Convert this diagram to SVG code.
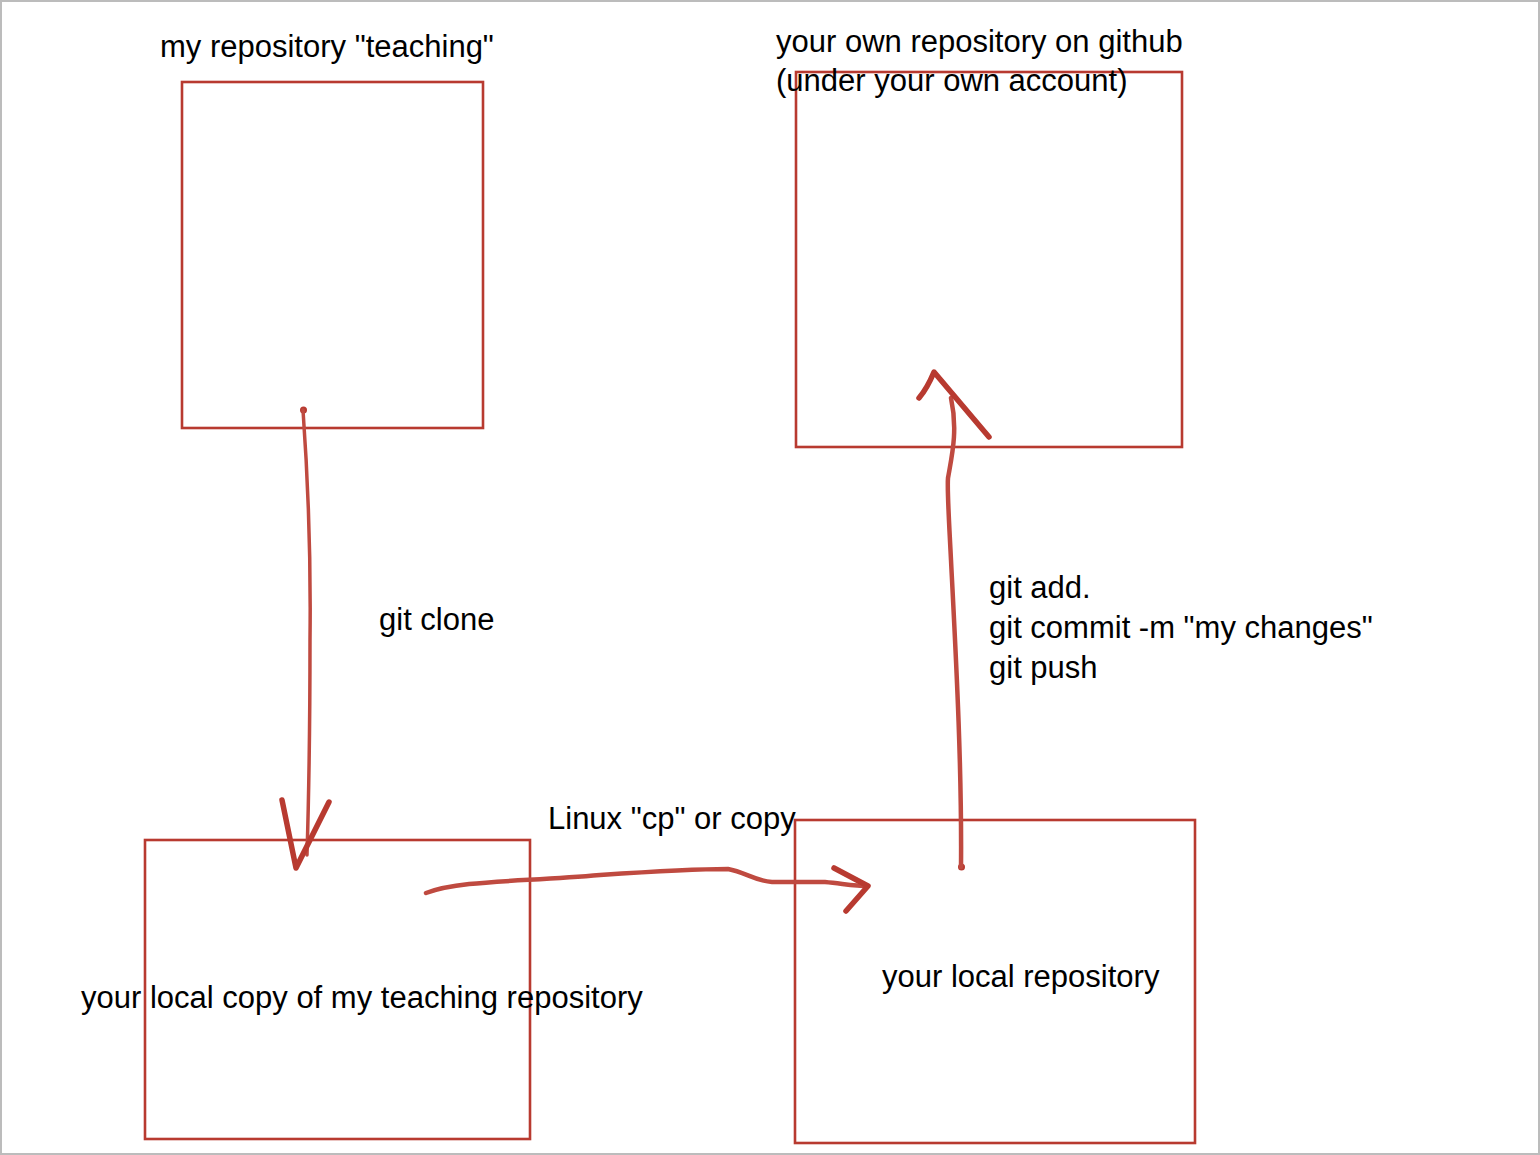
<svg xmlns="http://www.w3.org/2000/svg" width="1540" height="1155" viewBox="0 0 1540 1155">
<style>
.box{fill:none;stroke:#b83a30;stroke-width:2.6}
.t{font-family:"Liberation Sans",Arial,sans-serif;font-size:31px;fill:#000}
.ln{fill:none;stroke:#bf4a40;stroke-width:3.5;stroke-linecap:round;stroke-linejoin:round}
.ah{fill:none;stroke:#b83a30;stroke-width:5.5;stroke-linecap:round;stroke-linejoin:round}
.dot{fill:#b83a30}
</style>
<rect x="1" y="1" width="1538" height="1153" fill="#fff" stroke="#bcbcbc" stroke-width="2"/>
<g id="teaching">
<rect class="box" x="182" y="82" width="301" height="346"/>
<text class="t" x="160" y="57">my repository "teaching"</text>
</g>
<g id="github">
<rect class="box" x="796" y="72" width="386" height="375"/>
<text class="t" x="776" y="52">your own repository on github</text>
<text class="t" x="776" y="91">(under your own account)</text>
</g>
<g id="localcopy">
<rect class="box" x="145" y="840" width="385" height="299"/>
<text class="t" x="81" y="1008">your local copy of my teaching repository</text>
</g>
<g id="localrepo">
<rect class="box" x="795" y="820" width="400" height="323"/>
<text class="t" x="882" y="987">your local repository</text>
</g>
<g id="connectors">
<circle class="dot" cx="303.5" cy="410" r="3.5"/>
<path class="ln" d="M303,410 C308,480 311,560 310,640 C310,720 309,790 307,855"/>
<path class="ah" d="M282,800 L296,868 L329,802"/>
<text class="t" x="379" y="630">git clone</text>
<path class="ln" d="M426,893 C460,880 520,882 600,875 C660,871 700,869 728,869 C745,872 755,881 772,882 L825,882 C845,884 855,886 868,886" style="stroke-width:4.5"/>
<path class="ah" d="M834,868 L868,886 L846,911"/>
<text class="t" x="548" y="829">Linux "cp" or copy</text>
<circle class="dot" cx="961.5" cy="867" r="3.5"/>
<path class="ln" d="M961,867 C962,760 955,640 951,560 C949,520 947,490 948,478 C952,455 958,430 951,398" style="stroke-width:4.5"/>
<path class="ah" d="M919,398 C925,391 929,384 934,372 L989,437"/>
<text class="t" x="989" y="598">git add.</text>
<text class="t" x="989" y="638">git commit -m "my changes"</text>
<text class="t" x="989" y="678">git push</text>
</g>
</svg>
